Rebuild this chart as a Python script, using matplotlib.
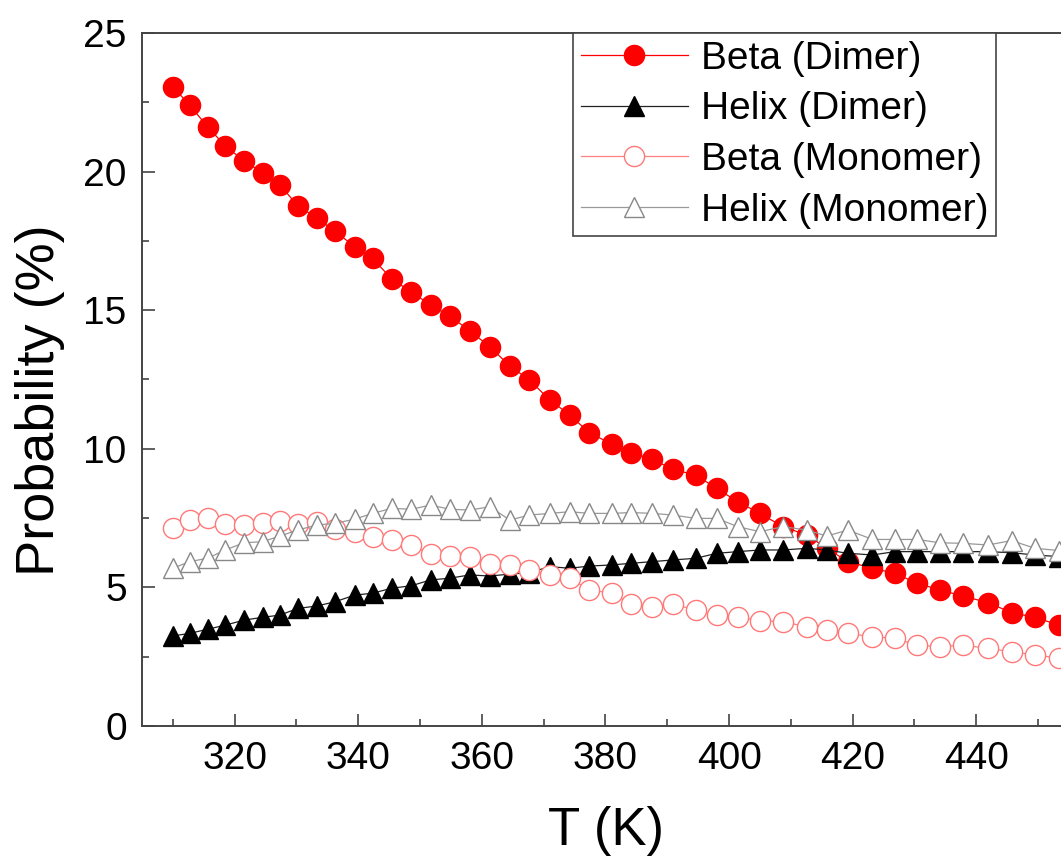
import matplotlib
matplotlib.use("Agg")
import matplotlib.pyplot as plt
from matplotlib.ticker import MultipleLocator

plt.rcParams["font.family"] = ["Liberation Sans", "DejaVu Sans"]

# temperatures (K)
temps = [310.0, 312.7, 315.6, 318.5, 321.5, 324.5, 327.3, 330.2, 333.3, 336.2,
         339.4, 342.3, 345.4, 348.6, 351.7, 354.8, 358.0, 361.3, 364.5, 367.7,
         371.0, 374.2, 377.4, 381.0, 384.2, 387.6, 390.9, 394.6, 398.0, 401.4,
         405.0, 408.7, 412.6, 415.8, 419.2, 423.2, 426.8, 430.4, 434.1, 437.8,
         441.9, 445.7, 449.5, 453.4]

beta_dimer = [23.06, 22.40, 21.62, 20.92, 20.39, 19.96, 19.52, 18.77, 18.32, 17.86,
              17.29, 16.87, 16.13, 15.65, 15.19, 14.79, 14.26, 13.68, 12.99, 12.48,
              11.76, 11.22, 10.58, 10.17, 9.86, 9.62, 9.26, 9.05, 8.57, 8.09,
              7.67, 7.19, 6.89, 6.41, 5.93, 5.69, 5.51, 5.15, 4.91, 4.69,
              4.45, 4.09, 3.92, 3.64]

helix_dimer = [3.25, 3.34, 3.49, 3.64, 3.82, 3.92, 4.00, 4.24, 4.33, 4.48,
               4.72, 4.79, 4.97, 5.06, 5.27, 5.33, 5.45, 5.41, 5.48, 5.53,
               5.75, 5.69, 5.77, 5.81, 5.87, 5.93, 5.99, 6.05, 6.23, 6.29,
               6.35, 6.35, 6.41, 6.35, 6.23, 6.17, 6.29, 6.29, 6.29, 6.29,
               6.29, 6.25, 6.17, 6.11]

beta_monomer = [7.15, 7.43, 7.49, 7.28, 7.25, 7.33, 7.41, 7.28, 7.37, 7.10,
                7.01, 6.83, 6.71, 6.53, 6.20, 6.13, 6.11, 5.83, 5.81, 5.63,
                5.45, 5.33, 4.91, 4.79, 4.40, 4.30, 4.40, 4.18, 4.00, 3.94,
                3.80, 3.76, 3.58, 3.46, 3.34, 3.22, 3.17, 2.92, 2.86, 2.92,
                2.80, 2.68, 2.56, 2.45]

helix_monomer = [5.69, 5.93, 6.05, 6.35, 6.61, 6.65, 6.85, 7.07, 7.25, 7.31,
                 7.46, 7.67, 7.85, 7.82, 7.97, 7.82, 7.79, 7.91, 7.43, 7.61,
                 7.67, 7.73, 7.67, 7.67, 7.70, 7.67, 7.61, 7.49, 7.49, 7.19,
                 7.01, 7.19, 7.07, 6.85, 7.07, 6.73, 6.73, 6.73, 6.61, 6.59,
                 6.53, 6.69, 6.41, 6.33]

labels = ["Beta (Dimer)", "Helix (Dimer)", "Beta (Monomer)", "Helix (Monomer)"]

fig = plt.figure(figsize=(10.61, 8.63), dpi=100)
# axes run slightly past the right edge, as in the cropped original
ax = fig.add_axes([142 / 1061, 137 / 863, 927 / 1061, 693 / 863])

ms = 14.5
ax.plot(temps, beta_dimer, color="#ff0000", linewidth=0.9, marker="o",
        markersize=ms, markerfacecolor="#ff0000", markeredgecolor="#ff0000",
        label=labels[0])
ax.plot(temps, helix_dimer, color="#222222", linewidth=0.9, marker="^",
        markersize=ms, markerfacecolor="black", markeredgecolor="black",
        label=labels[1])
ax.plot(temps, beta_monomer, color="#ff8080", linewidth=0.9, marker="o",
        markersize=ms, markerfacecolor="white", markeredgecolor="#ff7878",
        markeredgewidth=1.0, label=labels[2])
ax.plot(temps, helix_monomer, color="#999999", linewidth=0.9, marker="^",
        markersize=ms, markerfacecolor="white", markeredgecolor="#888888",
        markeredgewidth=1.0, label=labels[3])

ax.set_xlim(305, 455)
ax.set_ylim(0, 25)
ax.xaxis.set_major_locator(MultipleLocator(20))
ax.xaxis.set_minor_locator(MultipleLocator(10))
ax.yaxis.set_major_locator(MultipleLocator(5))
ax.yaxis.set_minor_locator(MultipleLocator(2.5))
ax.tick_params(which="both", direction="in", color="#444444", labelsize=28)
ax.tick_params(which="major", length=9, width=1.2, pad=11)
ax.tick_params(which="minor", length=5, width=1.2)
for side in ax.spines.values():
    side.set_color("#444444")
    side.set_linewidth(1.4)

ax.set_xlabel("T (K)", fontsize=38)
ax.set_ylabel("Probability (%)", fontsize=39)
ax.yaxis.set_label_coords(-0.083, 0.47)
ax.xaxis.set_label_coords(0.5, -0.115)
ax.xaxis.label.set_va("top")

leg = ax.legend(loc="upper left", bbox_to_anchor=(431 / 927, 1.0),
                borderaxespad=0, fontsize=28, handlelength=2.75,
                handletextpad=0.33, labelspacing=0.375, borderpad=0.2,
                fancybox=False, framealpha=1)
leg.get_frame().set_edgecolor("#444444")
leg.get_frame().set_linewidth(1.2)

plt.savefig("out.png", dpi=100)
plt.close()
